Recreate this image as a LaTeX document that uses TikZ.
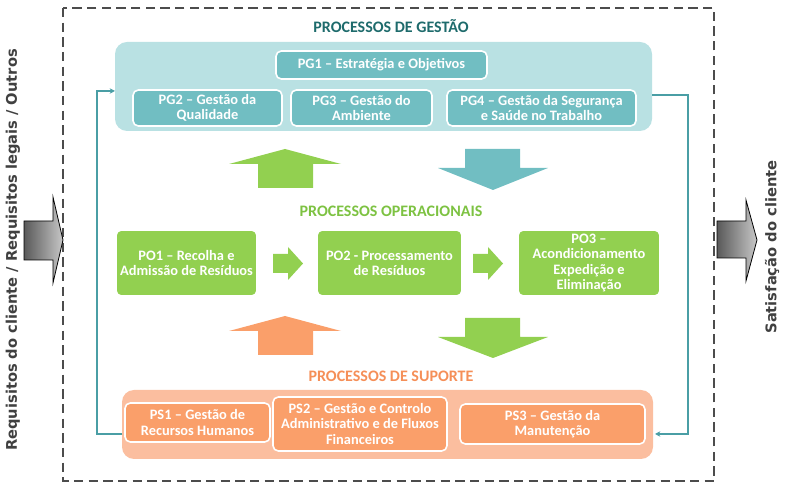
\documentclass[tikz,border=0pt]{standalone}
\usepackage{fontspec}
\usetikzlibrary{arrows.meta}
\setmainfont{Carlito}
\newfontfamily\sidefont{DejaVu Sans}
\definecolor{tealdark}{HTML}{1E6B6C}
\definecolor{tealbox}{HTML}{71BEC2}
\definecolor{tealpanel}{HTML}{B9E1E3}
\definecolor{tealline}{HTML}{4A9EA5}
\definecolor{greenbox}{HTML}{92D050}
\definecolor{greentitle}{HTML}{7DC242}
\definecolor{orangebox}{HTML}{FA9F6A}
\definecolor{orangepanel}{HTML}{FBBE9F}
\definecolor{orangetitle}{HTML}{F58F58}
\definecolor{sidegray}{HTML}{404040}
\begin{document}
\begin{tikzpicture}[x=0.75pt,y=-0.75pt,
  panel/.style={fill=#1,rounded corners=9pt},
  proc/.style={fill=#1,draw=white,line width=1.2pt,rounded corners=4pt,text=white,
    font=\bfseries\fontsize{10.8}{11.3}\selectfont,align=center,inner sep=1pt},
  title/.style={text=#1,font=\bfseries\fontsize{12}{14}\selectfont},
  side/.style={text=sidegray,font=\sidefont\bfseries\fontsize{11}{13}\selectfont,rotate=90},
  grayarrow/.style={left color=black!65,right color=black!22,draw=black,line width=0.6pt}]
\useasboundingbox (0,0) rectangle (790,491);
\draw[black!70,dashed,dash pattern=on 7pt off 4pt,line width=1.2pt] (63,8) rectangle (714,481);
% processos de gestao
\node[title=tealdark] (tgestao) at (391,26) {PROCESSOS DE GESTÃO};
\fill[panel=tealpanel] (115,42) rectangle (652,131);
\coordinate (gleft) at (115,91);
\coordinate (gright) at (652,95);
\node[proc=tealbox,minimum width=211*0.75pt,minimum height=28*0.75pt] (pg1) at (381.5,65) {PG1 – Estratégia e Objetivos};
\node[proc=tealbox,minimum width=149*0.75pt,minimum height=36*0.75pt] (pg2) at (207.5,108) {PG2 – Gestão da\\Qualidade};
\node[proc=tealbox,minimum width=141*0.75pt,minimum height=36*0.75pt] (pg3) at (361.5,108) {PG3 – Gestão do\\Ambiente};
\node[proc=tealbox,minimum width=189*0.75pt,minimum height=36*0.75pt] (pg4) at (541.5,108) {PG4 – Gestão da Segurança\\e Saúde no Trabalho};
% setas centrais
\fill[greenbox] (258,188) -- (258,164) -- (229,164) -- (285,149) -- (341,164) -- (313,164) -- (313,188) -- cycle;
\fill[tealbox] (465,149) -- (465,168) -- (438,168) -- (493,190) -- (548,168) -- (520,168) -- (520,149) -- cycle;
% processos operacionais
\node[title=greentitle] (toper) at (391,211) {PROCESSOS OPERACIONAIS};
\node[proc=greenbox,minimum width=141*0.75pt,minimum height=66*0.75pt] (po1) at (186.5,263) {PO1 – Recolha e\\Admissão de Resíduos};
\node[proc=greenbox,minimum width=145*0.75pt,minimum height=66*0.75pt] (po2) at (389.5,263) {PO2 - Processamento\\de Resíduos};
\node[proc=greenbox,minimum width=142*0.75pt,minimum height=66*0.75pt] (po3) at (589,263) {PO3 –\\Acondicionamento\\Expedição e\\Eliminação};
\fill[greenbox] (273,254) -- (288,254) -- (288,247) -- (303,263.5) -- (288,280) -- (288,273) -- (273,273) -- cycle;
\fill[greenbox] (473,254) -- (488,254) -- (488,247) -- (503,263.5) -- (488,280) -- (488,273) -- (473,273) -- cycle;
\fill[orangebox] (258,355) -- (258,331) -- (229,331) -- (285,316) -- (341,331) -- (313,331) -- (313,355) -- cycle;
\fill[greenbox] (465,318) -- (465,337) -- (438,337) -- (493,358) -- (548,337) -- (520,337) -- (520,318) -- cycle;
% processos de suporte
\node[title=orangetitle] (tsuporte) at (391,376) {PROCESSOS DE SUPORTE};
\fill[panel=orangepanel] (122,390) rectangle (653,459);
\coordinate (sleft) at (122,434);
\coordinate (sright) at (655,434);
\node[proc=orangebox,minimum width=145*0.75pt,minimum height=39*0.75pt] (ps1) at (197.5,422.5) {PS1 – Gestão de\\Recursos Humanos};
\node[proc=orangebox,minimum width=174*0.75pt,minimum height=54*0.75pt] (ps2) at (360,424) {PS2 – Gestão e Controlo\\Administrativo e de Fluxos\\Financeiros};
\node[proc=orangebox,minimum width=185*0.75pt,minimum height=40*0.75pt] (ps3) at (552.5,424) {PS3 – Gestão da\\Manutenção};
% ciclo
\draw[tealline,line width=0.8pt,-{Stealth[length=4pt,width=4pt]}] (sleft) -| (97,91) -- (gleft);
\draw[tealline,line width=0.8pt,-{Stealth[length=4pt,width=4pt]}] (gright) -| (688,434) -- (sright);
% entradas e saidas
\draw[grayarrow] (24,221) -- (53,221) -- (53,197) -- (63,240) -- (53,283) -- (53,260) -- (24,260) -- cycle;
\draw[grayarrow] (717,221) -- (746,221) -- (746,200) -- (757,240) -- (746,281) -- (746,258) -- (717,258) -- cycle;
\node[side] (req) at (13,250) {Requisitos do cliente / Requisitos legais / Outros};
\node[side] (sat) at (772,247) {Satisfação do cliente};
\end{tikzpicture}
\end{document}
